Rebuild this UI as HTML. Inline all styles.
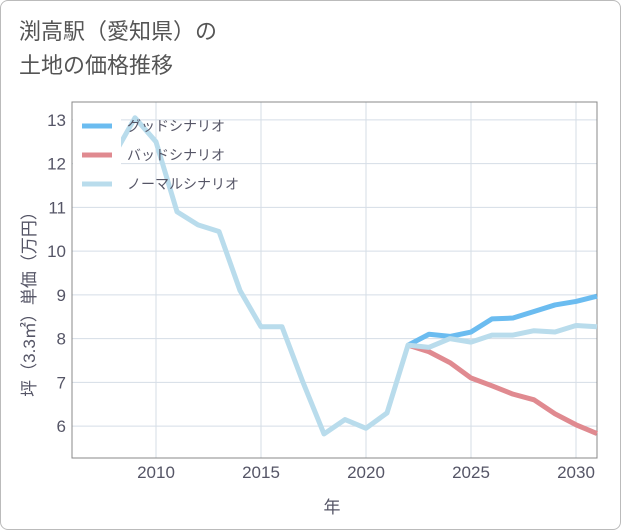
<!DOCTYPE html>
<html><head><meta charset="utf-8"><style>
body{margin:0;background:#fff;}
#wrap{position:relative;width:619px;height:528px;border:1px solid #bbb;border-radius:8px;overflow:hidden;font-family:"Liberation Sans","Noto Sans CJK JP",sans-serif;}
#title{position:absolute;left:18px;top:14px;font-size:22px;line-height:34px;color:#555;}
</style></head><body>
<div id="wrap">
<div id="title">渕高駅（愛知県）の<br>土地の価格推移</div>
<svg id="chart" width="621" height="530" style="position:absolute;left:-1px;top:-1px"></svg>
</div>
<script>
const years=[2008,2009,2010,2011,2012,2013,2014,2015,2016,2017,2018,2019,2020,2021,2022,2023,2024,2025,2026,2027,2028,2029,2030,2031];
const normal=[12.2,13.05,12.5,10.9,10.6,10.45,9.1,8.27,8.27,7.0,5.82,6.15,5.95,6.3,7.85,7.8,8.0,7.92,8.08,8.08,8.18,8.15,8.3,8.27];
const fYears=[2022,2023,2024,2025,2026,2027,2028,2029,2030,2031];
const good=[7.85,8.1,8.05,8.15,8.45,8.47,8.62,8.77,8.85,8.97];
const bad=[7.85,7.7,7.45,7.1,6.92,6.73,6.6,6.28,6.03,5.83];
const xTicks=[2010,2015,2020,2025,2030];
const yTicks=[6,7,8,9,10,11,12,13];
const L=72,R=597,T=102,B=458,x0=2006,x1=2031,y0=5.27,y1=13.41;
const sx=v=>L+(v-x0)/(x1-x0)*(R-L), sy=v=>B-(v-y0)/(y1-y0)*(B-T);
const svg=document.getElementById('chart');const NS='http://www.w3.org/2000/svg';
function mk(t,a,p){const e=document.createElementNS(NS,t);for(const k in a)e.setAttribute(k,a[k]);(p||svg).appendChild(e);return e;}
let e;
for(const t of yTicks){e=mk('line',{x1:L,x2:R,y1:sy(t),y2:sy(t),stroke:'#d5dde6','stroke-width':1});

e=mk('text',{x:L-6,y:sy(t)+6,'text-anchor':'end','font-size':17,fill:'#556'});e.textContent=t;
}
for(const t of xTicks){e=mk('line',{x1:sx(t),x2:sx(t),y1:T,y2:B,stroke:'#d5dde6','stroke-width':1});

e=mk('text',{x:sx(t),y:B+20,'text-anchor':'middle','font-size':17,fill:'#556'});e.textContent=t;
}
e=mk('rect',{x:L,y:T,width:R-L,height:B-T,fill:'none',stroke:'#888','stroke-width':1});

function line(xs,ys,c,n){const p=xs.map((v,i)=>sx(v)+','+sy(ys[i])).join(' ');
const el=mk('polyline',{points:p,fill:'none',stroke:c,'stroke-width':5,'stroke-linejoin':'round'});
}
line(fYears,good,'#6bbcf0','good-scenario-line');
line(fYears,bad,'#e08a90','bad-scenario-line');
line(years,normal,'#b9dcec','normal-scenario-line');
e=mk('rect',{x:L+1,y:T+5,width:48,height:96,fill:'#fff'});

const lg=[['グッドシナリオ','#6bbcf0'],['バッドシナリオ','#e08a90'],['ノーマルシナリオ','#b9dcec']];
lg.forEach((d,i)=>{const y=T+24+i*29;
e=mk('line',{x1:L+10,x2:L+40,y1:y,y2:y,stroke:d[1],'stroke-width':5});

e=mk('text',{x:L+55,y:y+5,'font-size':14,fill:'#556'});e.textContent=d[0];
});
e=mk('text',{x:332,y:513,'text-anchor':'middle','font-size':17,fill:'#556'});e.textContent='年';

e=mk('text',{x:0,y:0,'text-anchor':'middle','font-size':17,fill:'#556',transform:'translate(35,300) rotate(-90)'});e.textContent='坪（3.3㎡）単価（万円）';

</script>
</body></html>
